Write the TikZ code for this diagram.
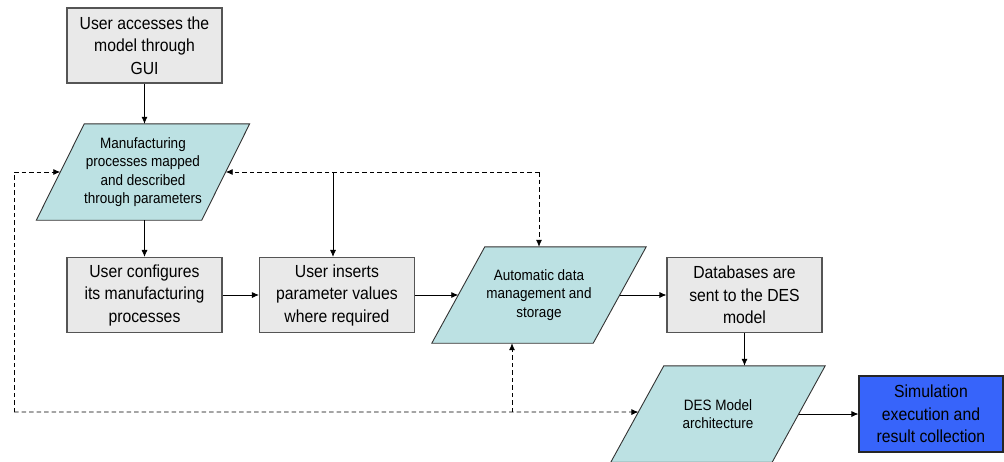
\documentclass[tikz,border=0pt]{standalone}
\usepackage{fontspec}
\setmainfont{Liberation Sans}[FakeStretch=0.9]
\usetikzlibrary{arrows.meta,backgrounds,calc}
\definecolor{boxgray}{RGB}{233,233,233}
\definecolor{boxline}{RGB}{85,85,85}
\definecolor{datacyan}{RGB}{188,225,227}
\definecolor{simblue}{RGB}{55,100,250}
% outline of a data (parallelogram) block behind its text node: #1 node, #2 total slant
\newcommand\dataoutline[2]{%
  \begin{pgfonlayer}{background}
  \draw[datashape] ($(#1.north west)+(#2/2,0)$) -- ($(#1.north east)+(#2/2,0)$)
    -- ($(#1.south east)-(#2/2,0)$) -- ($(#1.south west)-(#2/2,0)$) -- cycle;
  \end{pgfonlayer}}
\begin{document}
\begin{tikzpicture}[x=1pt,y=-1pt,
  proc/.style={draw=boxline, line width=1.1pt, fill=boxgray, minimum width=155pt,
    minimum height=75pt, align=center, inner sep=0pt,
    font=\fontsize{17.5}{22.5}\selectfont},
  datatext/.style={align=center, inner sep=0pt, minimum height=96pt,
    font=\fontsize{15}{18.3}\selectfont},
  datashape/.style={draw=black!80, line width=0.9pt, fill=datacyan},
  flow/.style={-{Latex[length=7pt,width=6pt]}, line width=0.8pt},
  loop/.style={flow, dash pattern=on 4.5pt off 3pt}]
\clip (0,0) rectangle (1004,461);

% process boxes
\node[proc] (box1) at (144.5,45.5) {User accesses the\\model through\\GUI};
\node[proc] (box2) at (144.5,295) {User configures\\its manufacturing\\processes};
\node[proc] (box3) at (337,295) {User inserts\\parameter values\\where required};
\node[proc] (box4) at (744.5,295) {Databases are\\sent to the DES\\model};
\node[proc, fill=simblue, draw=black!85, minimum width=144pt, minimum height=76pt]
  (box5) at (931,414) {Simulation\\execution and\\result collection};

% data blocks
\node[datatext, minimum width=165pt] (para1) at (143,172)
  {Manufacturing\\processes mapped\\and described\\through parameters};
\dataoutline{para1}{48}
\node[datatext, minimum width=161pt] (para2) at (539,295)
  {Automatic data\\management and\\storage};
\dataoutline{para2}{53}
\node[datatext, minimum width=161pt] (para3) at (718,414)
  {DES Model\\architecture};
\dataoutline{para3}{53}

% corners of the left side of the DES block
\coordinate (p3bl) at ($(para3.south west)-(26.5,0)$);
\coordinate (p3tl) at ($(para3.north west)+(26.5,0)$);

% junctions of the feedback lines
\coordinate (jl) at (14,172);
\coordinate (jb) at (14,412);
\coordinate (jt) at (539,172);
\coordinate (js) at (333,172);
\coordinate (jd) at (512,412);

% main flow
\draw[flow] (box1.south) -- (box1.south |- para1.north);
\draw[flow] (box2.north |- para1.south) -- (box2.north);
\draw[flow] (box2) -- (box3);
\draw[flow] (box3) -- (para2);
\draw[flow] (para2) -- (box4);
\draw[flow] (box4.south) -- (box4.south |- para3.north);
\draw[flow] (para3) -- (box5);
\draw[flow] (js) -- (js |- box3.north);

% feedback lines
\draw[loop] (jb) -- (jl) -- (para1);
\draw[loop] (jb) -- (intersection of jb--jd and p3bl--p3tl);
\draw[loop] (jt) -- (para1);
\draw[loop] (jt) -- (jt |- para2.north);
\draw[loop] (jd) -- (jd |- para2.south);
\end{tikzpicture}
\end{document}
